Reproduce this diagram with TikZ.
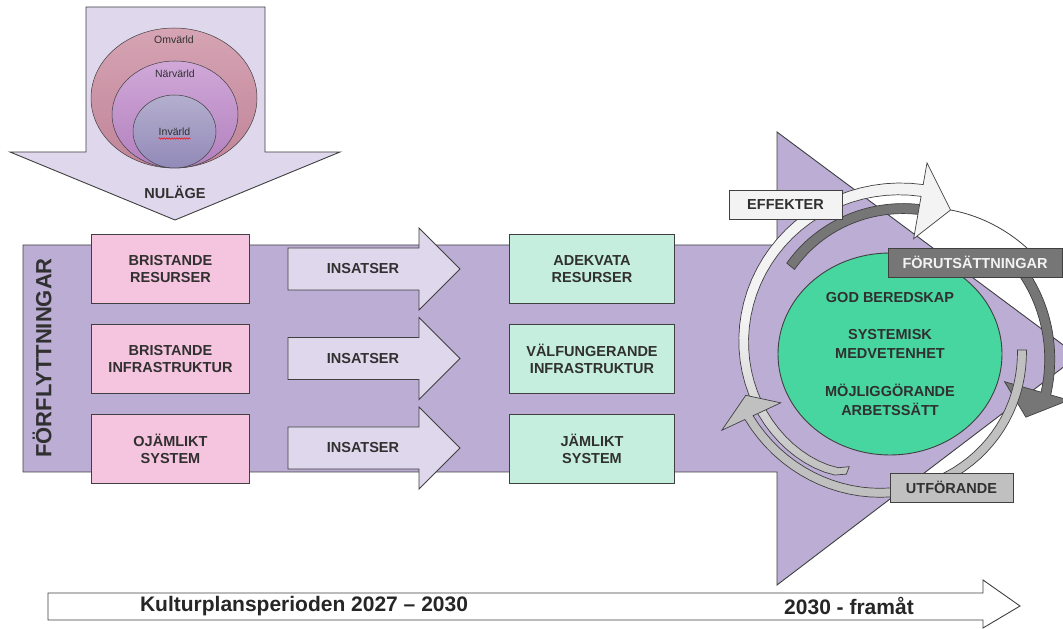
\documentclass[tikz,border=0pt]{standalone}
\usepackage{fontspec}
\setmainfont{Liberation Sans}
\usetikzlibrary{positioning,shapes.geometric,decorations.pathmorphing}

\definecolor{lila}{RGB}{188,173,213}
\definecolor{ljuslila}{RGB}{223,215,236}
\definecolor{rosa}{RGB}{245,196,222}
\definecolor{mint}{RGB}{197,238,222}
\definecolor{gron}{RGB}{72,214,160}
\definecolor{kant}{RGB}{64,64,64}
\definecolor{textgra}{RGB}{48,48,48}
\definecolor{morkgra}{RGB}{118,118,118}
\definecolor{ljusgra}{RGB}{192,192,192}
\definecolor{vitgra}{RGB}{243,243,243}
\definecolor{rosaA}{RGB}{214,164,180}
\definecolor{rosaB}{RGB}{192,132,152}
\definecolor{lilaA}{RGB}{208,168,216}
\definecolor{lilaB}{RGB}{178,128,190}
\definecolor{gralilaA}{RGB}{180,174,206}
\definecolor{gralilaB}{RGB}{146,138,184}

\newcommand{\ringband}[4]{plot[domain=#1:#2,samples=40] ({894+(#3+(#4)/2)*cos(\x)},{279+(#3+(#4)/2)*sin(\x)})
  -- plot[domain=#2:#1,samples=40] ({894+(#3-(#4)/2)*cos(\x)},{279+(#3-(#4)/2)*sin(\x)}) -- cycle}
\newcommand{\ringarrow}[8]{plot[domain=#1:#2,samples=40] ({894+(#3+(#4)/2)*cos(\x)},{279+(#3+(#4)/2)*sin(\x)})
  -- ([shift={(#2:#6)}]ring) -- ([shift={(#7:#8)}]ring) -- ([shift={(#2:#5)}]ring)
  -- plot[domain=#2:#1,samples=40] ({894+(#3-(#4)/2)*cos(\x)},{279+(#3-(#4)/2)*sin(\x)}) -- cycle}

\begin{document}
\begin{tikzpicture}[x=1pt,y=1pt,
	every node/.style={text=textgra,font=\fontsize{14.5}{17.5}\selectfont\bfseries},
	box/.style={draw=kant,line width=0.9pt,minimum width=158pt,minimum height=69pt,align=center,inner sep=0pt},
	pinkbox/.style={box,fill=rosa},
	mintbox/.style={box,fill=mint,minimum width=165pt},
	pil/.style={draw=kant,line width=0.9pt},
	varld/.style={ellipse,draw=kant,line width=0.5pt,inner sep=0pt},
	liten/.style={font=\fontsize{10.5}{12}\selectfont,text=textgra},
	etikett/.style={draw=kant,line width=0.9pt,minimum height=29pt,inner sep=0pt},
	ringpil/.style={draw=kant,line width=0.7pt}]
	\useasboundingbox (0,0) rectangle (1063,629);
	\clip (0,0) rectangle (1063,629);
	\fill[white] (0,0) rectangle (1063,629);

	\draw[pil,fill=ljuslila] (86,622) -- (265,622) -- (265,477) -- (340,477) -- (175,409) -- (10,477) -- (86,477) -- cycle;
	\node (nulage) at (175,437) {NULÄGE};
	\node[varld,top color=rosaA,bottom color=rosaB,minimum width=166pt,minimum height=140pt] (omv) at (174,531) {};
	\node[varld,top color=lilaA,bottom color=lilaB,minimum width=126pt,minimum height=107pt] (nar) at (175,514.5) {};
	\node[varld,liten,top color=gralilaA,bottom color=gralilaB,minimum width=83pt,minimum height=73pt] (inv) at (174.5,497.5) {Invärld};
	\node[liten] (omvtxt) at ([yshift=-12pt]omv.north) {Omvärld};
	\node[liten] (nartxt) at ([yshift=-13pt]nar.north) {Närvärld};
	\draw[red,line width=0.5pt,decorate,decoration={snake,amplitude=0.7pt,segment length=2.5pt}]
		([shift={(-16,-7)}]inv.center) -- ([shift={(16,-7)}]inv.center);

	\draw[pil,fill=lila] (23,384) -- (777,384) -- (777,497) -- (1078,273) -- (777,44) -- (777,157) -- (23,157) -- cycle;
	\node[rotate=90,font=\fontsize{22}{24}\selectfont\bfseries] (forfl) at (42,271) {FÖRFLYTTNINGAR};

	\node[pinkbox] (bres)                    at (170.5,360) {BRISTANDE\\RESURSER};
	\node[pinkbox] (binf) [below=20pt of bres]              {BRISTANDE\\INFRASTRUKTUR};
	\node[pinkbox] (ojam) [below=20pt of binf]              {OJÄMLIKT\\SYSTEM};
	\foreach \y/\n in {360/1,270.5/2,181/3}{
		\draw[pil,fill=ljuslila] (288,\y+21) -- (419,\y+21) -- (419,\y+41) -- (460,\y) -- (419,\y-41) -- (419,\y-21) -- (288,\y-21) -- cycle;
		\node (ins\n) at (363,\y) {INSATSER};
	}
	\node[mintbox] (adek)                    at (592,360) {ADEKVATA\\RESURSER};
	\node[mintbox] (valf) [below=20pt of adek]            {VÄLFUNGERANDE\\INFRASTRUKTUR};
	\node[mintbox] (jaml) [below=20pt of valf]            {JÄMLIKT\\SYSTEM};

	\node[ellipse,draw=kant,line width=0.9pt,fill=gron,minimum width=224pt,minimum height=202pt,inner sep=0pt,align=center,
		font=\fontsize{14.5}{19}\selectfont\bfseries] (mal) at (890,275)
		{GOD BEREDSKAP\\[18pt]SYSTEMISK\\MEDVETENHET\\[19pt]MÖJLIGGÖRANDE\\ARBETSSÄTT};

	\coordinate (ring) at (894,279);
	\draw[ringpil,fill=morkgra] \ringband{141}{78}{133+25*(141-(\x))/157}{10};
	\draw[ringpil,fill=morkgra] \ringarrow{30}{-16}{133+25*(141-(\x))/157}{10}{115}{182}{-27}{148};
	\draw[kant,line width=0.8pt] plot[domain=68:33,samples=30] ({894+(151+19*(68-(\x))/35)*cos(\x)},{279+(151+19*(68-(\x))/35)*sin(\x)});
	\draw[ringpil,top color=vitgra,bottom color=ljusgra,middle color=vitgra]
		\ringarrow{249}{80}{129+33*sqrt((249-(\x))/169)}{8+4*(249-(\x))/169}{113}{190}{68}{151};
	\draw[ringpil,fill=ljusgra]
		\ringarrow{0}{-155}{128+32*(abs(\x)/155)*sqrt(abs(\x)/155)}{9}{125}{190}{-163}{155};

	\node[etikett,fill=vitgra,minimum width=113pt] (eff)   at (785.5,424.5) {EFFEKTER};
	\node[etikett,fill=morkgra,text=vitgra,minimum width=174pt] (forut) at (975,366.5) {FÖRUTSÄTTNINGAR};
	\node[etikett,fill=ljusgra,minimum width=123pt] (utf)  at (951.5,141.5) {UTFÖRANDE};

	\draw[pil,fill=white] (48,36) -- (983,36) -- (983,49) -- (1020,23) -- (983,1) -- (983,9) -- (48,9) -- cycle;
	\node[font=\fontsize{21}{23}\selectfont\bfseries,text=black!85] (kultur) at (304,23) {Kulturplansperioden 2027 – 2030};
	\node[font=\fontsize{21}{23}\selectfont\bfseries,text=black!85] (framat) at (849,23) {2030 - framåt};
\end{tikzpicture}
\end{document}
